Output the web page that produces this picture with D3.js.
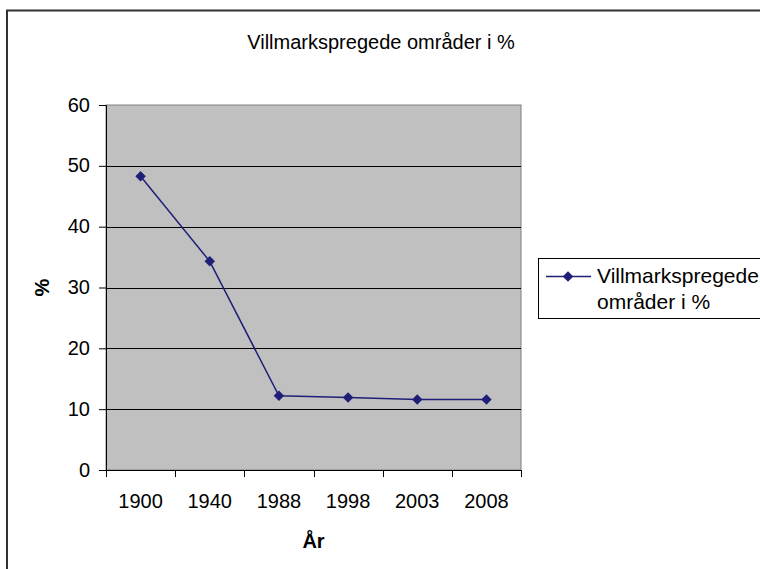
<!DOCTYPE html>
<html>
<head>
<meta charset="utf-8">
<script src="https://cdn.jsdelivr.net/npm/d3@7"></script>
<style>
  body { margin: 0; background: #fff; }
  svg { display: block; font-family: "Liberation Sans", Arial, sans-serif; }
</style>
</head>
<body>
<div id="chart"></div>
<script>
const years = ['1900', '1940', '1988', '1998', '2003', '2008'];
const values = [48.3, 34.3, 12.2, 11.9, 11.6, 11.6];
const yTicks = [0, 10, 20, 30, 40, 50, 60];
const seriesName = ['Villmarkspregede', 'områder i %'];

const width = 760, height = 569;
const plot = { left: 106, top: 105, right: 521, bottom: 470 };
const color = '#1f1f78';
const fontSize = '20px';

const svg = d3.select('#chart').append('svg')
  .attr('width', width)
  .attr('height', height);

// outer chart border
svg.append('path')
  .attr('d', `M7,${height} V10.5 H${width}`)
  .attr('fill', 'none')
  .attr('stroke', '#333')
  .attr('stroke-width', 2);

svg.append('text')
  .attr('x', 381)
  .attr('y', 49)
  .attr('text-anchor', 'middle')
  .style('font-size', fontSize)
  .text('Villmarkspregede områder i %');

const xScale = d3.scaleBand()
  .domain(years)
  .range([plot.left, plot.right]);

const yScale = d3.scaleLinear()
  .domain([0, 60])
  .range([plot.bottom, plot.top]);

// plot area
svg.append('rect')
  .attr('x', plot.left)
  .attr('y', plot.top)
  .attr('width', plot.right - plot.left)
  .attr('height', plot.bottom - plot.top)
  .attr('fill', '#c0c0c0')
  .attr('stroke', '#808080')
  .attr('stroke-width', 1);

// gridlines
svg.append('g')
  .selectAll('line')
  .data(yTicks.filter(d => d > 0 && d < 60))
  .enter()
  .append('line')
  .attr('x1', plot.left)
  .attr('x2', plot.right)
  .attr('y1', d => Math.round(yScale(d)) + 0.5)
  .attr('y2', d => Math.round(yScale(d)) + 0.5)
  .attr('stroke', '#000')
  .attr('stroke-width', 1);

const yAxis = d3.axisLeft(yScale)
  .tickValues(yTicks)
  .tickSize(7)
  .tickPadding(9);

const yAxisGroup = svg.append('g')
  .attr('transform', `translate(${plot.left},0)`)
  .call(yAxis);
yAxisGroup.select('.domain').attr('stroke', '#000');
yAxisGroup.selectAll('text')
  .style('font-size', fontSize)
  .attr('dy', '0.3em')
  .attr('fill', '#000');

const xAxis = d3.axisBottom(xScale)
  .tickSize(0)
  .tickPadding(24);

const xAxisGroup = svg.append('g')
  .attr('transform', `translate(0,${plot.bottom})`)
  .call(xAxis);
xAxisGroup.select('.domain').remove();
xAxisGroup.selectAll('text')
  .style('font-size', fontSize)
  .attr('fill', '#000');

// x axis line and category separator ticks
svg.append('line')
  .attr('x1', plot.left)
  .attr('x2', plot.right)
  .attr('y1', plot.bottom + 0.5)
  .attr('y2', plot.bottom + 0.5)
  .attr('stroke', '#000');

const boundaries = years.map(d => xScale(d)).concat([xScale.range()[1]]);
svg.append('g')
  .selectAll('line')
  .data(boundaries)
  .enter()
  .append('line')
  .attr('x1', d => Math.round(d) + 0.5)
  .attr('x2', d => Math.round(d) + 0.5)
  .attr('y1', plot.bottom)
  .attr('y2', plot.bottom + 7)
  .attr('stroke', '#000');

// axis titles
svg.append('text')
  .attr('x', (plot.left + plot.right) / 2)
  .attr('y', 548)
  .attr('text-anchor', 'middle')
  .style('font-size', fontSize)
  .style('font-weight', 'bold')
  .text('År');

svg.append('text')
  .attr('transform', `translate(49,${(plot.top + plot.bottom) / 2}) rotate(-90)`)
  .attr('text-anchor', 'middle')
  .style('font-size', fontSize)
  .style('font-weight', 'bold')
  .text('%');

// series
const data = years.map((y, i) => ({ year: y, value: values[i] }));
const xCenter = d => xScale(d.year) + xScale.bandwidth() / 2;

const line = d3.line()
  .x(xCenter)
  .y(d => yScale(d.value));

svg.append('path')
  .datum(data)
  .attr('d', line)
  .attr('fill', 'none')
  .attr('stroke', color)
  .attr('stroke-width', 1.5);

const diamond = d3.symbol().type(d3.symbolDiamond2).size(70);

svg.append('g')
  .selectAll('path')
  .data(data)
  .enter()
  .append('path')
  .attr('d', diamond)
  .attr('transform', d => `translate(${xCenter(d)},${yScale(d.value)})`)
  .attr('fill', color);

// legend
const legend = svg.append('g');
legend.append('rect')
  .attr('x', 538.5)
  .attr('y', 258.5)
  .attr('width', 240)
  .attr('height', 60)
  .attr('fill', '#fff')
  .attr('stroke', '#000');
legend.append('line')
  .attr('x1', 546)
  .attr('x2', 591)
  .attr('y1', 276.5)
  .attr('y2', 276.5)
  .attr('stroke', color)
  .attr('stroke-width', 1.5);
legend.append('path')
  .attr('d', diamond)
  .attr('transform', 'translate(568,276.5)')
  .attr('fill', color);
legend.selectAll('text')
  .data(seriesName)
  .enter()
  .append('text')
  .attr('x', 597)
  .attr('y', (d, i) => 283 + i * 26)
  .style('font-size', '21px')
  .text(d => d);
</script>
</body>
</html>
